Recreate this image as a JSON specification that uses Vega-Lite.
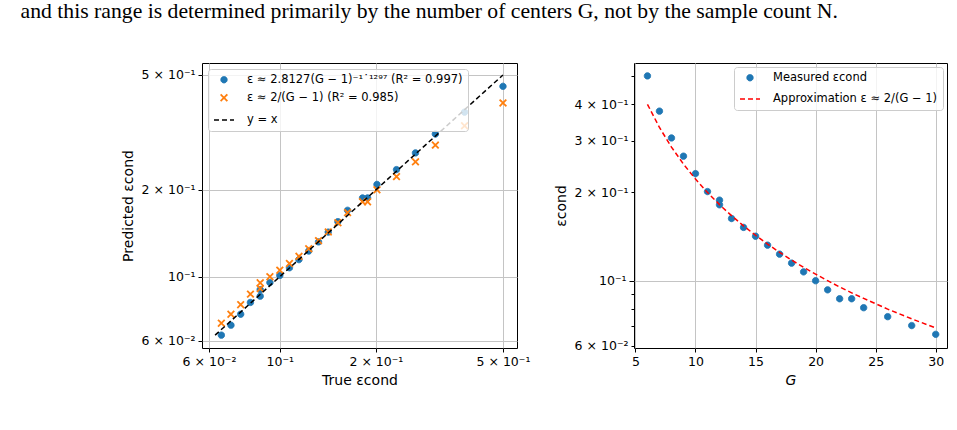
{
  "$schema": "https://vega.github.io/schema/vega-lite/v6.json",
  "padding": {"left": 20, "top": 0, "right": 0, "bottom": 0},
  "title": {
    "text": "and this range is determined primarily by the number of centers G, not by the sample count N.",
    "anchor": "start",
    "dx": -100,
    "font": "Liberation Serif",
    "fontSize": 21.7,
    "fontWeight": "normal",
    "color": "black",
    "offset": 40
  },
  "datasets": {
    "eps": [
      {"G": 6, "measured": 0.500, "fit": 0.4566, "approx": 0.4000},
      {"G": 7, "measured": 0.379, "fit": 0.3716, "approx": 0.3333},
      {"G": 8, "measured": 0.307, "fit": 0.3122, "approx": 0.2857},
      {"G": 9, "measured": 0.266, "fit": 0.2685, "approx": 0.2500},
      {"G": 10, "measured": 0.232, "fit": 0.2350, "approx": 0.2222},
      {"G": 11, "measured": 0.2015, "fit": 0.2087, "approx": 0.2000},
      {"G": 12, "measured": 0.1816, "fit": 0.1874, "approx": 0.1818},
      {"G": 12, "measured": 0.1883, "fit": 0.1874, "approx": 0.1818},
      {"G": 13, "measured": 0.163, "fit": 0.1698, "approx": 0.1667},
      {"G": 14, "measured": 0.152, "fit": 0.1551, "approx": 0.1538},
      {"G": 15, "measured": 0.1418, "fit": 0.1427, "approx": 0.1429},
      {"G": 16, "measured": 0.1322, "fit": 0.1320, "approx": 0.1333},
      {"G": 17, "measured": 0.1232, "fit": 0.1227, "approx": 0.1250},
      {"G": 18, "measured": 0.1148, "fit": 0.1146, "approx": 0.1176},
      {"G": 19, "measured": 0.1072, "fit": 0.1074, "approx": 0.1111},
      {"G": 20, "measured": 0.1000, "fit": 0.1010, "approx": 0.1053},
      {"G": 21, "measured": 0.0931, "fit": 0.0954, "approx": 0.1000},
      {"G": 22, "measured": 0.0868, "fit": 0.0902, "approx": 0.0952},
      {"G": 23, "measured": 0.0868, "fit": 0.0856, "approx": 0.0909},
      {"G": 24, "measured": 0.0809, "fit": 0.0814, "approx": 0.0870},
      {"G": 26, "measured": 0.0754, "fit": 0.0741, "approx": 0.0800},
      {"G": 28, "measured": 0.0703, "fit": 0.0679, "approx": 0.0741},
      {"G": 30, "measured": 0.0656, "fit": 0.0627, "approx": 0.0690}
    ],
    "diag": [{"v": 0.0627}, {"v": 0.5}]
  },
  "hconcat": [
    {
      "width": 315,
      "height": 285,
      "layer": [
        {
          "data": {"name": "eps"},
          "transform": [{"fold": ["fit", "approx"], "as": ["series", "predicted"]}],
          "mark": {"type": "point", "filled": true, "opacity": 1},
          "encoding": {
            "x": {
              "field": "measured", "type": "quantitative",
              "scale": {"type": "log", "domain": [0.05705, 0.5532], "nice": false},
              "axis": {
                "title": "True εcond",
                "values": [0.06, 0.1, 0.2, 0.5],
                "labelExpr": "datum.value < 0.08 ? '6 × 10⁻²' : datum.value < 0.15 ? '10⁻¹' : datum.value < 0.3 ? '2 × 10⁻¹' : '5 × 10⁻¹'"
              }
            },
            "y": {
              "field": "predicted", "type": "quantitative",
              "scale": {"type": "log", "domain": [0.0566, 0.5501], "nice": false},
              "axis": {
                "title": "Predicted εcond",
                "values": [0.06, 0.1, 0.2, 0.5],
                "labelExpr": "datum.value < 0.08 ? '6 × 10⁻²' : datum.value < 0.15 ? '10⁻¹' : datum.value < 0.3 ? '2 × 10⁻¹' : '5 × 10⁻¹'"
              }
            },
            "shape": {
              "field": "series", "type": "nominal",
              "scale": {"domain": ["fit", "approx", "yx"], "range": ["circle", "M-1,-1L1,1M-1,1L1,-1", "stroke"]},
              "legend": {"title": null, "orient": "top-left", "labelExpr": "datum.label == 'fit' ? 'ε ≈ 2.8127(G − 1)⁻¹˙¹²⁹⁷ (R² = 0.997)' : datum.label == 'approx' ? 'ε ≈ 2/(G − 1) (R² = 0.985)' : 'y = x'"}
            },
            "fill": {
              "field": "series", "type": "nominal",
              "scale": {"domain": ["fit", "approx", "yx"], "range": ["#1f77b4", "transparent", "transparent"]},
              "legend": {"title": null, "orient": "top-left", "labelExpr": "datum.label == 'fit' ? 'ε ≈ 2.8127(G − 1)⁻¹˙¹²⁹⁷ (R² = 0.997)' : datum.label == 'approx' ? 'ε ≈ 2/(G − 1) (R² = 0.985)' : 'y = x'"}
            },
            "stroke": {
              "field": "series", "type": "nominal",
              "scale": {"domain": ["fit", "approx", "yx"], "range": ["#1f77b4", "#ff7f0e", "#000000"]},
              "legend": {"title": null, "orient": "top-left", "labelExpr": "datum.label == 'fit' ? 'ε ≈ 2.8127(G − 1)⁻¹˙¹²⁹⁷ (R² = 0.997)' : datum.label == 'approx' ? 'ε ≈ 2/(G − 1) (R² = 0.985)' : 'y = x'"}
            },
            "strokeDash": {
              "field": "series", "type": "nominal",
              "scale": {"domain": ["fit", "approx", "yx"], "range": [[1, 0], [1, 0], [5, 3]]},
              "legend": {"title": null, "orient": "top-left", "labelExpr": "datum.label == 'fit' ? 'ε ≈ 2.8127(G − 1)⁻¹˙¹²⁹⁷ (R² = 0.997)' : datum.label == 'approx' ? 'ε ≈ 2/(G − 1) (R² = 0.985)' : 'y = x'"}
            },
            "size": {
              "field": "series", "type": "nominal",
              "scale": {"type": "ordinal", "domain": ["fit", "approx", "yx"], "range": [40, 45, 400]},
              "legend": {"title": null, "orient": "top-left", "labelExpr": "datum.label == 'fit' ? 'ε ≈ 2.8127(G − 1)⁻¹˙¹²⁹⁷ (R² = 0.997)' : datum.label == 'approx' ? 'ε ≈ 2/(G − 1) (R² = 0.985)' : 'y = x'"}
            },
            "strokeWidth": {
              "field": "series", "type": "nominal",
              "scale": {"type": "ordinal", "domain": ["fit", "approx", "yx"], "range": [1, 1.8, 1.5]},
              "legend": {"title": null, "orient": "top-left", "labelExpr": "datum.label == 'fit' ? 'ε ≈ 2.8127(G − 1)⁻¹˙¹²⁹⁷ (R² = 0.997)' : datum.label == 'approx' ? 'ε ≈ 2/(G − 1) (R² = 0.985)' : 'y = x'"}
            }
          }
        },
        {
          "data": {"name": "diag"},
          "mark": {"type": "line", "color": "black", "strokeWidth": 1.5, "strokeDash": [5, 3]},
          "encoding": {
            "x": {"field": "v", "type": "quantitative"},
            "y": {"field": "v", "type": "quantitative"}
          }
        }
      ]
    },
    {
      "width": 313,
      "height": 285,
      "data": {"name": "eps"},
      "layer": [
        {
          "transform": [{"fold": ["measured"], "as": ["kind", "value"]}],
          "mark": {"type": "point", "filled": true, "opacity": 1},
          "encoding": {
            "x": {
              "field": "G", "type": "quantitative",
              "scale": {"domain": [4.88, 30.94], "nice": false, "zero": false},
              "axis": {"title": "G", "values": [5, 10, 15, 20, 25, 30], "titleFontStyle": "italic"}
            },
            "y": {
              "field": "value", "type": "quantitative",
              "scale": {"type": "log", "domain": [0.05893, 0.5533], "nice": false},
              "axis": {
                "title": "εcond",
                "values": [0.06, 0.07, 0.08, 0.09, 0.1, 0.2, 0.3, 0.4, 0.5],
                "labelExpr": "round(datum.value * 100) == 6 ? '6 × 10⁻²' : round(datum.value * 100) == 10 ? '10⁻¹' : round(datum.value * 100) == 20 ? '2 × 10⁻¹' : round(datum.value * 100) == 30 ? '3 × 10⁻¹' : round(datum.value * 100) == 40 ? '4 × 10⁻¹' : ''",
                "gridOpacity": {"condition": {"test": "round(datum.value * 100) == 10", "value": 1}, "value": 0},
                "tickSize": {"condition": {"test": "round(datum.value * 100) == 10", "value": 5}, "value": 3}
              }
            },
            "shape": {
              "field": "kind", "type": "nominal",
              "scale": {"domain": ["measured", "approx"], "range": ["circle", "stroke"]},
              "legend": {"title": null, "orient": "top-right", "offset": 4, "labelExpr": "datum.label == 'measured' ? 'Measured εcond' : 'Approximation ε ≈ 2/(G − 1)'"}
            },
            "fill": {
              "field": "kind", "type": "nominal",
              "scale": {"domain": ["measured", "approx"], "range": ["#1f77b4", "transparent"]},
              "legend": {"title": null, "orient": "top-right", "offset": 4, "labelExpr": "datum.label == 'measured' ? 'Measured εcond' : 'Approximation ε ≈ 2/(G − 1)'"}
            },
            "stroke": {
              "field": "kind", "type": "nominal",
              "scale": {"domain": ["measured", "approx"], "range": ["#1f77b4", "#ff0000"]},
              "legend": {"title": null, "orient": "top-right", "offset": 4, "labelExpr": "datum.label == 'measured' ? 'Measured εcond' : 'Approximation ε ≈ 2/(G − 1)'"}
            },
            "strokeDash": {
              "field": "kind", "type": "nominal",
              "scale": {"domain": ["measured", "approx"], "range": [[1, 0], [5, 3]]},
              "legend": {"title": null, "orient": "top-right", "offset": 4, "labelExpr": "datum.label == 'measured' ? 'Measured εcond' : 'Approximation ε ≈ 2/(G − 1)'"}
            },
            "size": {
              "field": "kind", "type": "nominal",
              "scale": {"type": "ordinal", "domain": ["measured", "approx"], "range": [40, 400]},
              "legend": {"title": null, "orient": "top-right", "offset": 4, "labelExpr": "datum.label == 'measured' ? 'Measured εcond' : 'Approximation ε ≈ 2/(G − 1)'"}
            },
            "strokeWidth": {
              "field": "kind", "type": "nominal",
              "scale": {"type": "ordinal", "domain": ["measured", "approx"], "range": [1, 1.5]},
              "legend": {"title": null, "orient": "top-right", "offset": 4, "labelExpr": "datum.label == 'measured' ? 'Measured εcond' : 'Approximation ε ≈ 2/(G − 1)'"}
            }
          }
        },
        {
          "mark": {"type": "line", "color": "#ff0000", "strokeWidth": 1.5, "strokeDash": [5, 3]},
          "encoding": {
            "x": {"field": "G", "type": "quantitative"},
            "y": {"field": "approx", "type": "quantitative"}
          }
        }
      ]
    }
  ],
  "spacing": 22,
  "resolve": {
    "scale": {
      "shape": "independent",
      "fill": "independent",
      "stroke": "independent",
      "strokeDash": "independent",
      "size": "independent",
      "strokeWidth": "independent"
    },
    "legend": {
      "shape": "independent",
      "fill": "independent",
      "stroke": "independent",
      "strokeDash": "independent",
      "size": "independent",
      "strokeWidth": "independent"
    }
  },
  "config": {
    "font": "DejaVu Sans",
    "view": {"stroke": "black", "strokeWidth": 1},
    "axis": {
      "domain": false,
      "grid": true,
      "gridColor": "#c4c4c4",
      "gridWidth": 1,
      "tickColor": "black",
      "tickSize": 4,
      "labelFont": "DejaVu Sans",
      "labelFontSize": 12.5,
      "labelColor": "black",
      "labelPadding": 3,
      "labelFlush": false,
      "labelOverlap": false,
      "titleFont": "DejaVu Sans",
      "titleFontSize": 14,
      "titleFontWeight": "normal",
      "titleColor": "black",
      "titlePadding": 6
    },
    "legend": {
      "labelFont": "DejaVu Sans",
      "labelFontSize": 11.5,
      "labelColor": "black",
      "labelLimit": 400,
      "fillColor": "rgba(255,255,255,0.8)",
      "strokeColor": "#cccccc",
      "cornerRadius": 3,
      "padding": 5,
      "offset": 6,
      "rowPadding": 4,
      "labelOffset": 12
    }
  }
}
